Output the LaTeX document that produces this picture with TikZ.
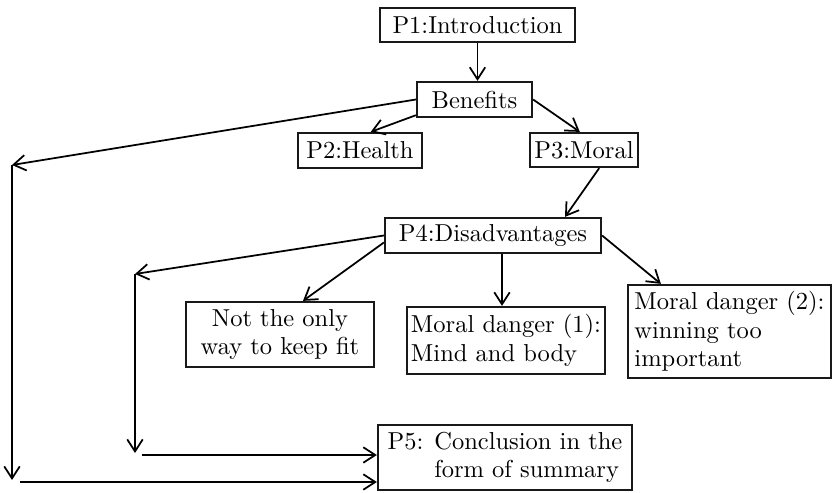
\documentclass[tikz,border=0pt]{standalone}
\usepackage{xcolor}
\usetikzlibrary{arrows.meta,calc}

\begin{document}
\begin{tikzpicture}[x=0.4pt,y=-0.4pt,>={Straight Barb[length=4.8pt,width=6.2pt]},line width=0.7pt]
\tikzstyle{block}=[rectangle,draw=black!90,line width=0.9pt,inner sep=1.5pt,font=\fontsize{9.8}{11.4}\selectfont]
\useasboundingbox (0,0) rectangle (833,493);
\node[block,minimum width=78pt,minimum height=13.6pt] (intro) at (477.5,25) {P1:Introduction};
\node[block,minimum width=46pt,minimum height=14pt] (ben) at (474.5,99.5) {Benefits};
\node[block,minimum width=49.6pt,minimum height=14pt] (health) at (360,150.5) {P2:Health};
\node[block,minimum width=43.2pt,minimum height=13.6pt] (moral) at (584,150) {P3:Moral};
\node[block,minimum width=86.4pt,minimum height=14pt] (dis) at (493,235.5) {P4:Disadvantages};
\node[block,minimum width=75.2pt,minimum height=26pt,align=center] (fit) at (280,334.5) {Not the only\\way to keep fit};
\node[block,minimum width=79.2pt,minimum height=26.8pt,align=left] (dangA) at (506,340.5) {Moral danger (1):\\Mind and body};
\node[block,minimum width=81.2pt,minimum height=37.2pt,align=left] (dangB) at (729.5,331.5) {Moral danger (2):\\winning too\\important};
\node[block,minimum width=101.6pt,minimum height=26pt,align=left] (concl) at (505,457.5) {P5: Conclusion in the\\\phantom{P5: }form of summary};
% free ends of the side routes
\coordinate (l1) at (12,165);
\coordinate (l2) at (12,480);
\coordinate (l3) at (20,482);
\coordinate (m1) at (135,274);
\coordinate (m2) at (135,453);
\coordinate (m3) at (142,455);
\draw[->] (intro.south) -- (intro.south |- ben.north);
\draw[->] (ben.195) -- (health.60);
\draw[->] (ben.east) -- (moral.103);
\draw[->] (ben.west) -- (l1);
\draw[->] (l1) -- (l2);
\draw[->] (l3) -- (l3 -| concl.west);
\draw[->] (moral.310) -- ($(dis.north)+(72,0)$);
\draw[->] (dis.west) -- (m1);
\draw[->] (m1) -- (m2);
\draw[->] (m3) -- (m3 -| concl.west);
\draw[->] ($(dis.west)+(0,7)$) -- ($(fit.north)+(23,0)$);
\draw[->] ($(dis.south)+(9,0)$) -- ($(dangA.north)+(-4,0)$);
\draw[->] (dis.east) -- ($(dangB.north west)+(34,0)$);
\end{tikzpicture}
\end{document}
